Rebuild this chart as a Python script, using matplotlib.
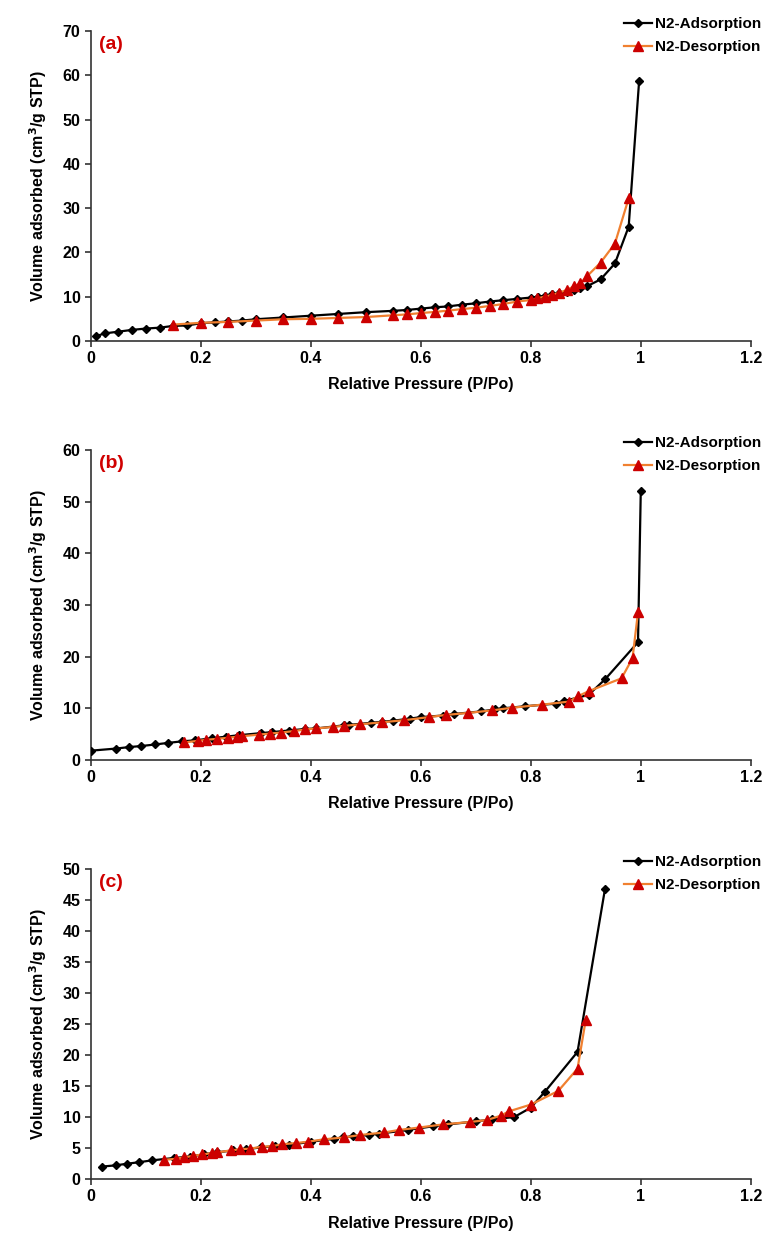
import matplotlib.pyplot as plt

plt.rcParams['font.family'] = ['Liberation Sans', 'DejaVu Sans']
plt.rcParams['font.weight'] = 'bold'

# panel (a)
ads_a_x = [0.01, 0.025, 0.05, 0.075, 0.1, 0.125, 0.15, 0.175, 0.2, 0.225, 0.25, 0.275, 0.3,
           0.35, 0.4, 0.45, 0.5, 0.55, 0.575, 0.6, 0.625, 0.65, 0.675, 0.7, 0.725, 0.75,
           0.775, 0.8, 0.813, 0.825, 0.839, 0.852, 0.865, 0.878, 0.89, 0.903, 0.927,
           0.953, 0.978, 0.997]
ads_a_y = [1.1, 1.7, 2.1, 2.5, 2.8, 3.0, 3.4, 3.5, 4.0, 4.2, 4.4, 4.6, 4.9,
           5.3, 5.7, 6.1, 6.5, 6.8, 7.0, 7.3, 7.6, 7.8, 8.2, 8.5, 8.9, 9.2,
           9.5, 9.8, 10.0, 10.2, 10.5, 10.8, 11.1, 11.5, 11.9, 12.4, 13.9,
           17.5, 25.8, 58.7]
des_a_x = [0.15, 0.2, 0.25, 0.3, 0.35, 0.4, 0.45, 0.5, 0.55, 0.575, 0.6, 0.625, 0.65,
           0.675, 0.7, 0.725, 0.75, 0.775, 0.8, 0.812, 0.825, 0.839, 0.852, 0.865,
           0.878, 0.89, 0.903, 0.927, 0.953, 0.978]
des_a_y = [3.7, 4.1, 4.3, 4.6, 4.9, 5.0, 5.2, 5.4, 5.8, 6.0, 6.3, 6.55, 6.85,
           7.2, 7.5, 7.9, 8.35, 8.9, 9.25, 9.6, 10.0, 10.4, 10.9, 11.5,
           12.3, 13.0, 14.7, 17.7, 22.0, 32.2]

# panel (b)
ads_b_x = [0.0, 0.045, 0.07, 0.092, 0.117, 0.14, 0.165, 0.19, 0.22, 0.245, 0.27, 0.31,
           0.33, 0.36, 0.39, 0.41, 0.46, 0.47, 0.51, 0.53, 0.55, 0.58, 0.6, 0.64, 0.66,
           0.71, 0.735, 0.75, 0.79, 0.845, 0.86, 0.905, 0.935, 0.995, 1.0]
ads_b_y = [1.8, 2.2, 2.5, 2.7, 3.0, 3.3, 3.6, 3.8, 4.2, 4.5, 4.8, 5.2,
           5.4, 5.7, 6.0, 6.1, 6.7, 6.8, 7.2, 7.4, 7.6, 8.0, 8.3, 8.6, 8.9,
           9.4, 9.8, 10.0, 10.4, 10.9, 11.4, 12.6, 15.6, 22.8, 52.0]
des_b_x = [0.17, 0.195, 0.21, 0.23, 0.25, 0.265, 0.275, 0.305, 0.325, 0.345, 0.37, 0.39,
           0.41, 0.44, 0.46, 0.49, 0.53, 0.57, 0.615, 0.645, 0.685, 0.73, 0.765, 0.82,
           0.87, 0.885, 0.905, 0.965, 0.985, 0.995]
des_b_y = [3.4, 3.7, 3.9, 4.1, 4.3, 4.5, 4.6, 4.9, 5.1, 5.3, 5.6, 5.9,
           6.1, 6.4, 6.6, 6.9, 7.3, 7.7, 8.3, 8.7, 9.1, 9.6, 10.1, 10.7,
           11.3, 12.3, 13.3, 15.8, 19.7, 28.6]

# panel (c)
ads_c_x = [0.02, 0.045, 0.065, 0.087, 0.111, 0.152, 0.18, 0.206, 0.23, 0.258, 0.282, 0.31,
           0.334, 0.36, 0.4, 0.443, 0.458, 0.476, 0.506, 0.524, 0.576, 0.622, 0.65, 0.7,
           0.73, 0.77, 0.8, 0.825, 0.885, 0.935]
ads_c_y = [2.0, 2.2, 2.45, 2.7, 3.0, 3.4, 3.6, 4.0, 4.3, 4.6, 4.8, 5.1,
           5.3, 5.5, 6.0, 6.5, 6.7, 6.9, 7.1, 7.3, 7.9, 8.5, 8.8, 9.3,
           9.6, 10.0, 11.5, 14.0, 20.5, 46.8]
des_c_x = [0.133, 0.155, 0.17, 0.185, 0.203, 0.221, 0.23, 0.254, 0.272, 0.29, 0.311, 0.33,
           0.348, 0.373, 0.394, 0.424, 0.46, 0.49, 0.533, 0.56, 0.597, 0.64, 0.69, 0.72,
           0.745, 0.76, 0.8, 0.85, 0.885, 0.9]
des_c_y = [3.1, 3.25, 3.5, 3.7, 3.95, 4.2, 4.3, 4.6, 4.8, 4.9, 5.2, 5.3,
           5.6, 5.8, 6.0, 6.4, 6.7, 7.1, 7.5, 7.9, 8.3, 8.8, 9.2, 9.5,
           10.2, 10.9, 12.0, 14.2, 17.8, 25.7]

panels = [
    ('(a)', ads_a_x, ads_a_y, des_a_x, des_a_y, 70, 10),
    ('(b)', ads_b_x, ads_b_y, des_b_x, des_b_y, 60, 10),
    ('(c)', ads_c_x, ads_c_y, des_c_x, des_c_y, 50, 5),
]
xticks = [0, 0.2, 0.4, 0.6, 0.8, 1.0, 1.2]
xticklabels = ['0', '0.2', '0.4', '0.6', '0.8', '1', '1.2']

fig = plt.figure(figsize=(7.7, 12.43), dpi=100)
bottoms = [0.7257, 0.3886, 0.0515]

for (lab, ax_x, ax_y, dx, dy, ymax, ystep), b in zip(panels, bottoms):
    ax = fig.add_axes([0.118, b, 0.857, 0.2494])
    ax.plot(ax_x, ax_y, color='black', lw=1.6, marker='D', ms=4.5,
            mfc='black', mec='black', label='N2-Adsorption', zorder=3)
    ax.plot(dx, dy, color='#f08030', lw=1.6, marker='^', ms=6.5,
            mfc='#cc0000', mec='#cc0000', label='N2-Desorption', zorder=4)
    ax.set_xlim(0, 1.2)
    ax.set_ylim(0, ymax)
    ax.set_xticks(xticks)
    ax.set_xticklabels(xticklabels)
    ax.set_yticks(list(range(0, ymax + 1, ystep)))
    for s in ['top', 'right']:
        ax.spines[s].set_visible(False)
    for s in ['left', 'bottom']:
        ax.spines[s].set_linewidth(1.2)
        ax.spines[s].set_color('#333333')
    ax.tick_params(axis='both', labelsize=11.5, width=1.2, length=4, color='#333333')
    for t in ax.get_xticklabels() + ax.get_yticklabels():
        t.set_fontweight('bold')
    ax.set_xlabel('Relative Pressure (P/Po)', fontsize=11.5, fontweight='bold', labelpad=8)
    ax.set_ylabel('Volume adsorbed (cm$^3$/g STP)', fontsize=11.5, fontweight='bold', labelpad=10)
    ax.text(0.012, 0.955, lab, transform=ax.transAxes, color='#d00000',
            fontsize=14, fontweight='bold', va='center', ha='left')
    leg = ax.legend(loc='upper right', bbox_to_anchor=(1.025, 1.065), frameon=False,
                    fontsize=11, handlelength=1.8, handletextpad=0.2, labelspacing=0.6,
                    borderaxespad=0)
    for t in leg.get_texts():
        t.set_fontweight('bold')

plt.rcParams['mathtext.default'] = 'bf'
fig.savefig('out.png', dpi=100)
